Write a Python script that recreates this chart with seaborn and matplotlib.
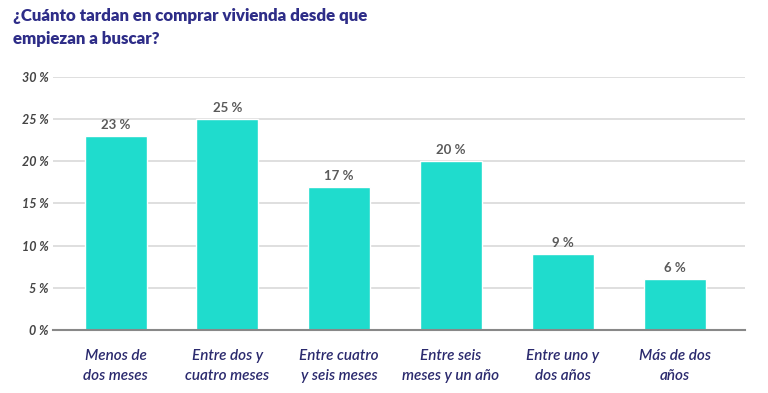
import matplotlib
matplotlib.use("Agg")
import matplotlib.pyplot as plt
import seaborn as sns
import pandas as pd

# data
categories = ["Menos de\ndos meses", "Entre dos y\ncuatro meses", "Entre cuatro\ny seis meses",
              "Entre seis\nmeses y un año", "Entre uno y\ndos años", "Más de dos\naños"]
values = [23, 25, 17, 20, 9, 6]
yticks = [0, 5, 10, 15, 20, 25, 30]

df = pd.DataFrame({"cat": categories, "val": values})

sns.set_style("white")
plt.rcParams["font.family"] = ["Lato", "DejaVu Sans"]

fig = plt.figure(figsize=(7.68, 3.93), dpi=100)
ax = fig.add_axes([53 / 768, 1 - 330 / 393, 692 / 768, 253 / 393])

sns.barplot(data=df, x="cat", y="val", color="#1fdccd", width=0.555, saturation=1, ax=ax)

ax.set_ylim(0, 30)
ax.set_xlim(-0.56, 5.63)
ax.set_yticks(yticks)
ax.set_yticklabels([f"{t} %" for t in yticks], fontsize=9, fontstyle="italic",
                   fontweight="bold", color="#444444")
ax.set_xticks(range(len(categories)))
ax.set_xticklabels(categories, fontsize=11, fontstyle="italic", fontweight="semibold",
                   color="#2b2a6e", linespacing=1.5)
ax.tick_params(axis="x", length=0, pad=14)
ax.tick_params(axis="y", length=0, pad=3)
ax.set_xlabel("")
ax.set_ylabel("")

ax.grid(axis="y", color="#d9d9d9", linewidth=1.2)
ax.set_axisbelow(True)
for s in ["top", "right", "left"]:
    ax.spines[s].set_visible(False)
ax.spines["bottom"].set_color("#888888")
ax.spines["bottom"].set_linewidth(1.5)

for i, v in enumerate(values):
    ax.text(i, v + 0.6, f"{v} %", ha="center", va="bottom", fontsize=9.5,
            fontweight="bold", color="#5a5a5a")

fig.text(13 / 768, 1 - 8 / 393, "¿Cuánto tardan en comprar vivienda desde que\nempiezan a buscar?",
         ha="left", va="top", fontsize=12.2, fontweight="heavy", color="#2e2d88", linespacing=1.55)

fig.savefig("out.png", dpi=100)
